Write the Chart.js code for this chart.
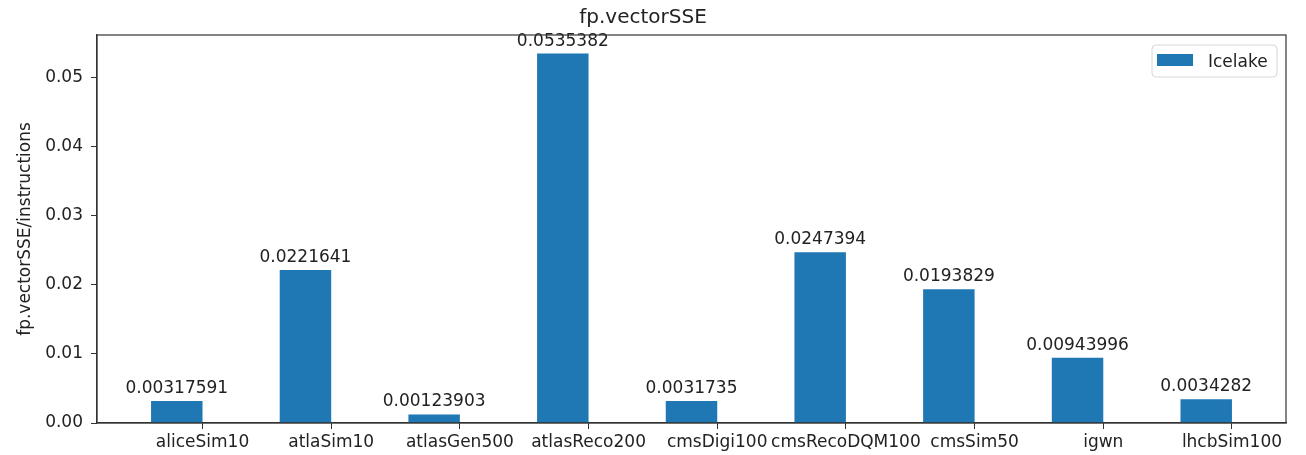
<!DOCTYPE html>
<html>
<head>
<meta charset="utf-8">
<script src="https://cdn.jsdelivr.net/npm/chart.js@4"></script>
<style>
  html, body { margin: 0; padding: 0; background: #fff; }
</style>
</head>
<body>
<canvas id="chart" width="1306" height="455"></canvas>
<script>
const categories = ['aliceSim10', 'atlaSim10', 'atlasGen500', 'atlasReco200', 'cmsDigi100',
  'cmsRecoDQM100', 'cmsSim50', 'igwn', 'lhcbSim100'];
const icelake = [0.00317591, 0.0221641, 0.00123903, 0.0535382, 0.0031735,
  0.0247394, 0.0193829, 0.00943996, 0.0034282];
const yTicks = [0, 0.01, 0.02, 0.03, 0.04, 0.05];

const FONT = 'DejaVu Sans';
const TEXT = '#222';
const AXIS = '#333';

// bar labels above each bar
const barLabels = {
  id: 'barLabels',
  afterDatasetsDraw(chart) {
    const ctx = chart.ctx;
    const meta = chart.getDatasetMeta(0);
    ctx.save();
    ctx.font = '17px ' + FONT;
    ctx.fillStyle = TEXT;
    ctx.textAlign = 'center';
    ctx.textBaseline = 'alphabetic';
    meta.data.forEach((bar, i) => {
      const p = bar.getProps(['x', 'y'], true);
      ctx.fillText(String(icelake[i]), p.x, p.y - 8);
    });
    ctx.restore();
  }
};

// full box around the plot + legend inside top right
const frame = {
  id: 'frame',
  afterDraw(chart) {
    const ctx = chart.ctx;
    const a = chart.chartArea;
    ctx.save();
    ctx.strokeStyle = AXIS;
    ctx.lineWidth = 1.2;
    ctx.strokeRect(a.left, a.top, a.right - a.left, a.bottom - a.top);

    const ds = chart.data.datasets[0];
    const w = 125, h = 32;
    const x = a.right - 9 - w, y = a.top + 10;
    ctx.beginPath();
    ctx.roundRect(x, y, w, h, 4);
    ctx.fillStyle = 'rgba(255,255,255,0.8)';
    ctx.fill();
    ctx.strokeStyle = '#d6d6d6';
    ctx.lineWidth = 1;
    ctx.stroke();
    ctx.fillStyle = ds.backgroundColor;
    ctx.fillRect(x + 5, y + 9, 36, 12);
    ctx.fillStyle = TEXT;
    ctx.font = '17px ' + FONT;
    ctx.textBaseline = 'alphabetic';
    ctx.fillText(ds.label, x + 56, y + 22);
    ctx.restore();
  }
};

new Chart(document.getElementById('chart'), {
  type: 'bar',
  data: {
    datasets: [{
      label: 'Icelake',
      data: icelake.map((v, i) => ({ x: i - 0.2, y: v })),
      backgroundColor: '#1f77b4',
      borderWidth: 0,
      barPercentage: 0.4,
      categoryPercentage: 1.0
    }]
  },
  options: {
    responsive: false,
    animation: false,
    layout: { padding: { left: 0, right: 20, top: 0, bottom: 0 } },
    plugins: {
      legend: { display: false },
      tooltip: { enabled: false },
      title: {
        display: true,
        text: 'fp.vectorSSE',
        color: TEXT,
        font: { family: FONT, size: 20, weight: 'normal' },
        padding: { top: 6, bottom: 5 }
      }
    },
    scales: {
      x: {
        type: 'linear',
        offset: false,
        min: -0.82,
        max: 8.42,
        afterBuildTicks: (axis) => { axis.ticks = categories.map((c, i) => ({ value: i })); },
        afterFit: (axis) => { axis.height = 32; },
        grid: { display: true, offset: false, drawOnChartArea: false, drawTicks: true, tickLength: 6, color: AXIS },
        border: { color: AXIS, width: 1.2 },
        ticks: {
          autoSkip: false,
          maxRotation: 0,
          minRotation: 0,
          padding: 3,
          color: TEXT,
          font: { family: FONT, size: 17 },
          callback: (v) => categories[v]
        }
      },
      y: {
        min: 0,
        max: 0.05622,
        afterBuildTicks: (axis) => { axis.ticks = yTicks.map(v => ({ value: v })); },
        afterFit: (axis) => { axis.width = 97; },
        grid: { display: true, drawOnChartArea: false, drawTicks: true, tickLength: 6, color: AXIS },
        border: { color: AXIS, width: 1.2 },
        ticks: {
          padding: 8,
          color: TEXT,
          font: { family: FONT, size: 17 },
          callback: (v) => v.toFixed(2)
        },
        title: {
          display: true,
          text: 'fp.vectorSSE/instructions',
          color: TEXT,
          font: { family: FONT, size: 17 },
          padding: { top: 15, bottom: 0 }
        }
      }
    }
  },
  plugins: [barLabels, frame]
});
</script>
</body>
</html>
